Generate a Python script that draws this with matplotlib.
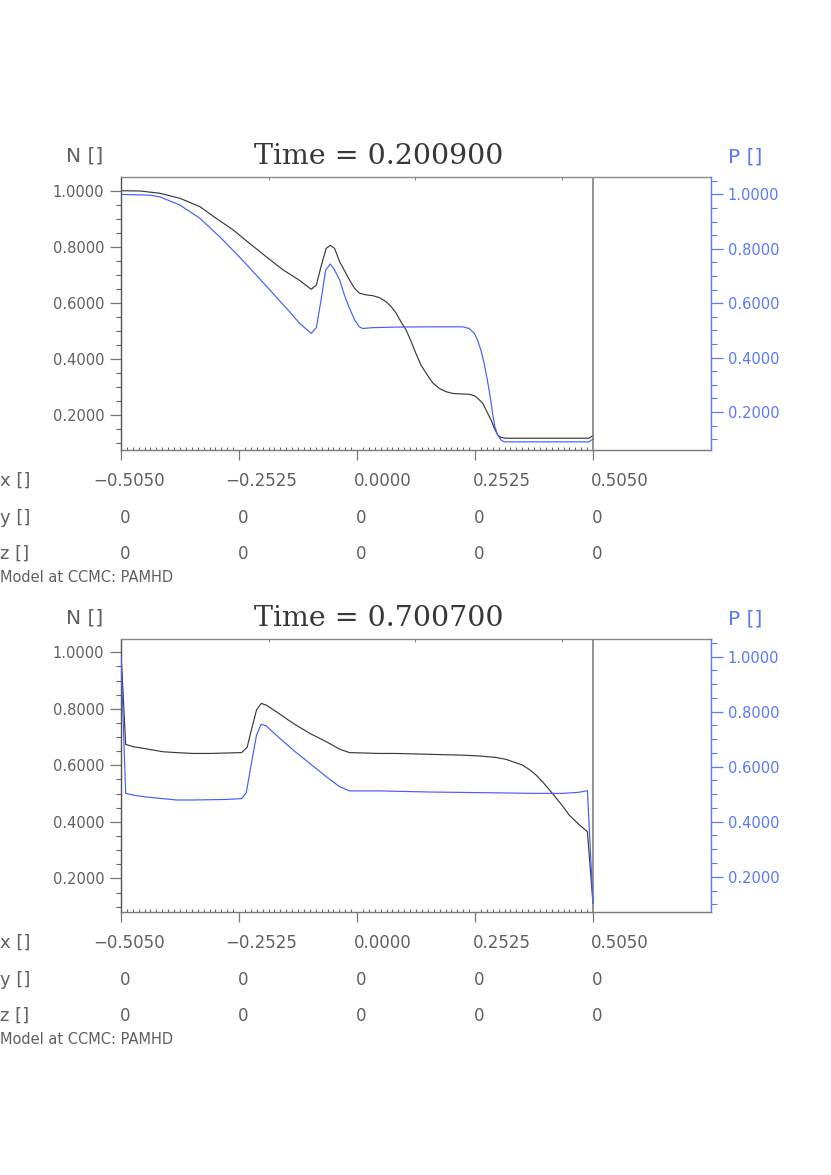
import matplotlib
matplotlib.use("Agg")
import matplotlib.pyplot as plt
import matplotlib.transforms as mtransforms
from matplotlib.ticker import MultipleLocator, FormatStrFormatter, NullLocator

# panel 1, t = 0.200900
time1 = "0.200900"
x_n1 = [-0.505, -0.464, -0.422, -0.379, -0.336, -0.301, -0.265, -0.230, -0.194, -0.158,
        -0.123, -0.098, -0.087, -0.077, -0.066, -0.057, -0.048, -0.037, -0.016, -0.005,
        0.005, 0.020, 0.034, 0.048, 0.062, 0.073, 0.084, 0.094, 0.105, 0.116,
        0.126, 0.137, 0.148, 0.162, 0.176, 0.191, 0.205, 0.226, 0.240, 0.251,
        0.258, 0.269, 0.276, 0.287, 0.294, 0.301, 0.308, 0.319, 0.496, 0.505]
n1 = [1.000, 0.999, 0.991, 0.973, 0.943, 0.901, 0.860, 0.812, 0.764, 0.717,
      0.680, 0.648, 0.663, 0.729, 0.794, 0.805, 0.794, 0.746, 0.681, 0.651,
      0.634, 0.628, 0.625, 0.618, 0.604, 0.586, 0.562, 0.532, 0.503, 0.461,
      0.419, 0.377, 0.348, 0.314, 0.294, 0.282, 0.276, 0.274, 0.273, 0.268,
      0.259, 0.241, 0.217, 0.181, 0.151, 0.128, 0.119, 0.116, 0.116, 0.125]
x_p1 = [-0.505, -0.443, -0.422, -0.379, -0.336, -0.290, -0.240, -0.191, -0.144, -0.123,
        -0.098, -0.087, -0.077, -0.067, -0.057, -0.048, -0.037, -0.027, -0.016, -0.005,
        0.005, 0.012, 0.034, 0.084, 0.155, 0.226, 0.240, 0.251, 0.258, 0.265,
        0.272, 0.279, 0.285, 0.290, 0.295, 0.301, 0.308, 0.315, 0.496, 0.505]
p1 = [1.000, 0.997, 0.991, 0.961, 0.912, 0.838, 0.749, 0.657, 0.568, 0.526,
      0.489, 0.510, 0.611, 0.722, 0.744, 0.722, 0.685, 0.630, 0.581, 0.538,
      0.513, 0.507, 0.510, 0.512, 0.513, 0.513, 0.507, 0.489, 0.464, 0.428,
      0.379, 0.317, 0.256, 0.195, 0.146, 0.115, 0.097, 0.090, 0.090, 0.100]

# panel 2, t = 0.700700
time2 = "0.700700"
x_n2 = [-0.505, -0.495, -0.479, -0.457, -0.436, -0.415, -0.386, -0.351, -0.315, -0.247,
        -0.235, -0.226, -0.215, -0.205, -0.194, -0.173, -0.137, -0.101, -0.066, -0.037,
        -0.016, 0.048, 0.084, 0.155, 0.226, 0.262, 0.297, 0.319, 0.340, 0.354,
        0.368, 0.383, 0.400, 0.418, 0.440, 0.454, 0.472, 0.493, 0.505]
n2 = [1.000, 0.674, 0.666, 0.660, 0.654, 0.648, 0.645, 0.642, 0.642, 0.645,
      0.664, 0.725, 0.796, 0.819, 0.813, 0.790, 0.749, 0.713, 0.684, 0.657,
      0.645, 0.642, 0.642, 0.639, 0.636, 0.633, 0.628, 0.621, 0.609, 0.601,
      0.586, 0.566, 0.536, 0.501, 0.456, 0.424, 0.395, 0.365, 0.111]
x_p2 = [-0.505, -0.495, -0.479, -0.457, -0.422, -0.386, -0.351, -0.315, -0.279, -0.247,
        -0.237, -0.226, -0.215, -0.205, -0.194, -0.173, -0.137, -0.101, -0.066, -0.037,
        -0.016, 0.048, 0.155, 0.297, 0.383, 0.440, 0.475, 0.493, 0.505]
p2 = [1.000, 0.503, 0.497, 0.491, 0.485, 0.479, 0.479, 0.480, 0.481, 0.484,
      0.505, 0.612, 0.715, 0.754, 0.748, 0.715, 0.661, 0.612, 0.564, 0.527,
      0.512, 0.512, 0.508, 0.505, 0.503, 0.503, 0.507, 0.513, 0.103]

x_ticks = [-0.505, -0.2525, 0.0, 0.2525, 0.505]
x_ticklabels = ["\u22120.5050", "\u22120.2525", "0.0000", "0.2525", "0.5050"]
y_row = ["0", "0", "0", "0", "0"]
z_row = ["0", "0", "0", "0", "0"]
top_ticks = [-0.189, 0.125, 0.439]

W, H = 831, 1175
GRAY = "#606060"
BLUE = "#4060ff"
BLUE_TXT = "#5a78ff"

fig = plt.figure(figsize=(W / 100, H / 100), dpi=100)


def fx(px):
    return px / W


def fy(py):
    return 1 - py / H


def panel(top, bottom, t, xn, n, xp, p, ylim_l, ylim_r):
    ax = fig.add_axes([fx(121), fy(bottom), fx(711) - fx(121), fy(top) - fy(bottom)])
    ax2 = ax.twinx()

    ax.plot(xn, n, color="#3a3a3a", lw=0.85)
    ax2.plot(xp, p, color=BLUE, lw=0.85)
    ax.axvline(0.505, color="#808080", lw=1.2)

    ax.set_xlim(-0.505, 0.7575)
    ax.set_ylim(*ylim_l)
    ax2.set_ylim(*ylim_r)

    # x axis: outward majors, small inward minors up to 0.505
    ax.set_xticks(x_ticks)
    ax.set_xticklabels([])
    ax.set_xticks([-0.505 + i * 0.012625 for i in range(81)], minor=True)
    ax.tick_params(axis="x", which="major", direction="out", length=7.5,
                   color="#777777", width=0.9)
    ax.tick_params(axis="x", which="minor", direction="in", length=2.2,
                   color="#666666", width=0.8)

    sec = ax.secondary_xaxis("top")
    sec.set_xticks(top_ticks)
    sec.xaxis.set_minor_locator(NullLocator())
    sec.tick_params(direction="in", length=2.5, labeltop=False, color="#888888")
    sec.spines["top"].set_visible(False)

    # left axis
    ax.yaxis.set_major_locator(MultipleLocator(0.2))
    ax.yaxis.set_minor_locator(MultipleLocator(0.05))
    ax.yaxis.set_major_formatter(FormatStrFormatter("%.4f"))
    ax.tick_params(axis="y", which="major", direction="out", length=8, width=0.9,
                   color="#777777", labelsize=10.5, labelcolor=GRAY, pad=4)
    ax.tick_params(axis="y", which="minor", direction="out", length=3.8, width=0.8,
                   color="#666666")

    # right axis
    ax2.yaxis.set_major_locator(MultipleLocator(0.2))
    ax2.yaxis.set_minor_locator(MultipleLocator(0.05))
    ax2.yaxis.set_major_formatter(FormatStrFormatter("%.4f"))
    ax2.tick_params(axis="y", which="major", direction="out", length=8.5, width=0.9,
                    color=BLUE_TXT, labelsize=10.5, labelcolor=BLUE_TXT, pad=3.5)
    ax2.tick_params(axis="y", which="minor", direction="out", length=4.2, width=0.8,
                    color=BLUE_TXT)

    for s in ["left", "top", "bottom"]:
        ax2.spines[s].set_visible(False)
    ax.spines["right"].set_visible(False)
    ax2.spines["right"].set_color(BLUE_TXT)
    ax2.spines["right"].set_linewidth(1.0)
    ax.spines["left"].set_color("#555555")
    ax.spines["top"].set_color("#8a8a8a")
    ax.spines["bottom"].set_color("#7a7a7a")
    for s in ["left", "top", "bottom"]:
        ax.spines[s].set_linewidth(1.0)

    # header texts
    fig.text(fx(379), fy(top - 21), "Time = " + t, ha="center", va="center",
             family="DejaVu Serif", fontsize=20.5, color="#383838")
    fig.text(fx(85), fy(top - 21), "N []", ha="center", va="center",
             fontsize=14.5, color=GRAY)
    fig.text(fx(745), fy(top - 20), "P []", ha="center", va="center",
             fontsize=14.5, color=BLUE_TXT)

    # tick label rows under the axis
    base = mtransforms.blended_transform_factory(ax.transData, ax.transAxes)
    shifts = [44, 58, 55, 56, 56]
    for xv, lab, sh in zip(x_ticks, x_ticklabels, shifts):
        tr = mtransforms.offset_copy(base, fig=fig, x=sh, y=-31, units="dots")
        ax.text(xv, 0, lab, transform=tr, ha="right", va="center",
                fontsize=12, color=GRAY, clip_on=False)
    for row, dy in [(y_row, 68), (z_row, 104)]:
        for xv, lab in zip(x_ticks, row):
            tr = mtransforms.offset_copy(base, fig=fig, x=4, y=-dy, units="dots")
            ax.text(xv, 0, lab, transform=tr, ha="center", va="center",
                    fontsize=12, color=GRAY, clip_on=False)
    for lab, dy in [("x []", 31), ("y []", 68), ("z []", 104)]:
        fig.text(fx(0), fy(bottom + dy), lab, ha="left", va="center",
                 fontsize=13, color=GRAY)
    fig.text(fx(0), fy(bottom + 128), "Model at CCMC: PAMHD", ha="left", va="center",
             fontsize=10.5, color=GRAY)


panel(177, 450, time1, x_n1, n1, x_p1, p1, (0.074, 1.049), (0.060, 1.064))
panel(639, 912, time2, x_n2, n2, x_p2, p2, (0.081, 1.047), (0.072, 1.064))

fig.savefig("out.png", dpi=100)
